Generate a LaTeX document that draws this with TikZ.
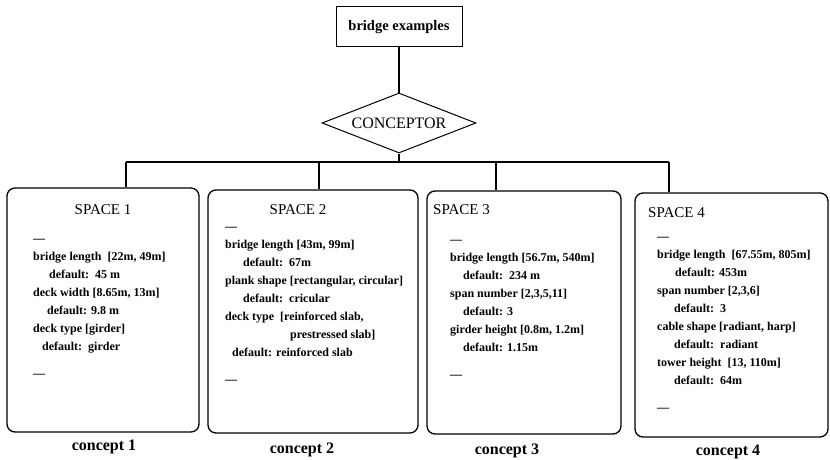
\documentclass[tikz,border=0pt]{standalone}
\usepackage{fontspec}
\setmainfont{Liberation Serif}
\usetikzlibrary{shapes.geometric, positioning}

\begin{document}
\begin{tikzpicture}[x=1pt, y=-1pt,
    % one unit is one pixel of the 830 x 460 page
    line/.style={line width=1.2pt, black},
    titlebox/.style={draw, line width=1pt, minimum width=126pt, minimum height=40pt,
        font=\fontsize{14.5}{16}\selectfont\bfseries},
    conceptor/.style={draw, diamond, aspect=2.6, line width=1pt, inner sep=0pt,
        minimum width=154pt, minimum height=60pt, font=\fontsize{16}{18}\selectfont},
    spacebox/.style={draw, rounded corners=8pt, line width=1.3pt},
    spacetitle/.style={inner sep=0pt, font=\fontsize{15}{17}\selectfont},
    params/.style={align=left, inner sep=0pt, anchor=north west,
        font=\fontsize{12}{18}\selectfont\bfseries},
    caption/.style={inner sep=0pt, font=\fontsize{16}{18}\selectfont\bfseries}
]
\useasboundingbox (0,0) rectangle (830,460);

\node[titlebox] (examples) at (399,27) {bridge examples};
\node[conceptor] (conceptor) at (399,123) {CONCEPTOR};

% the four design spaces
\node[spacebox, minimum width=192pt, minimum height=244pt] (space1) at (103,310) {};
\node[spacebox, minimum width=210pt, minimum height=243pt] (space2) at (313,311.5) {};
\node[spacebox, minimum width=194pt, minimum height=243pt] (space3) at (524,312.5) {};
\node[spacebox, minimum width=193pt, minimum height=244pt] (space4) at (731.5,315) {};

\node[spacetitle] (title1) at (103,210) {SPACE 1};
\node[spacetitle] (title2) at (298,210) {SPACE 2};
\node[spacetitle, anchor=west] (title3) at (433,210) {SPACE 3};
\node[spacetitle, anchor=west] (title4) at (648,213) {SPACE 4};

\node[params] (params1) at (33,229.4) {\strut\textemdash\\
    bridge length\ \ [22m, 49m]\\
    \hspace*{16pt}default:\ \ 45 m\\
    deck width [8.65m, 13m]\\
    \hspace*{14pt}default: 9.8 m\\
    deck type [girder]\\
    \hspace*{9pt}default:\ \ girder\\[9pt]
    \textemdash};
\node[params] (params2) at (225,217.4) {\strut\textemdash\\
    bridge length [43m, 99m]\\
    \hspace*{18pt}default:\ \ 67m\\
    plank shape [rectangular, circular]\\
    \hspace*{18pt}default:\ \ cricular\\
    deck type\ \ [reinforced slab,\\
    \hspace*{65pt}prestressed slab]\\
    \hspace*{7pt}default: reinforced slab\\[9pt]
    \textemdash};
\node[params] (params3) at (450,230.4) {\strut\textemdash\\
    bridge length [56.7m, 540m]\\
    \hspace*{13pt}default:\ \ 234 m\\
    span number [2,3,5,11]\\
    \hspace*{13pt}default: 3\\
    girder height [0.8m, 1.2m]\\
    \hspace*{13pt}default: 1.15m\\[9pt]
    \textemdash};
\node[params] (params4) at (657,227.4) {\strut\textemdash\\
    bridge length\ \ [67.55m, 805m]\\
    \hspace*{18pt}default: 453m\\
    span number [2,3,6]\\
    \hspace*{17pt}default:\ \ 3\\
    cable shape [radiant, harp]\\
    \hspace*{17pt}default:\ \ radiant\\
    tower height\ \ [13, 110m]\\
    \hspace*{17pt}default:\ \ 64m\\[9pt]
    \textemdash};

\node[caption] (concept1) at (104,447) {concept 1};
\node[caption] (concept2) at (302,450) {concept 2};
\node[caption] (concept3) at (507,451) {concept 3};
\node[caption] (concept4) at (728,452) {concept 4};

% tree of connectors
\coordinate (hub) at (399,162);
\coordinate (drop1) at (126,162);
\coordinate (drop2) at (319,162);
\coordinate (drop3) at (496,162);
\coordinate (drop4) at (669,162);

\draw[line] (examples) -- (conceptor);
\draw[line] (conceptor.south) -- (hub);
\draw[line] (drop1) -- (drop4);
\foreach \i in {1,...,4} {
    \draw[line] (drop\i) -- (drop\i |- space\i.north);
}
\end{tikzpicture}
\end{document}
